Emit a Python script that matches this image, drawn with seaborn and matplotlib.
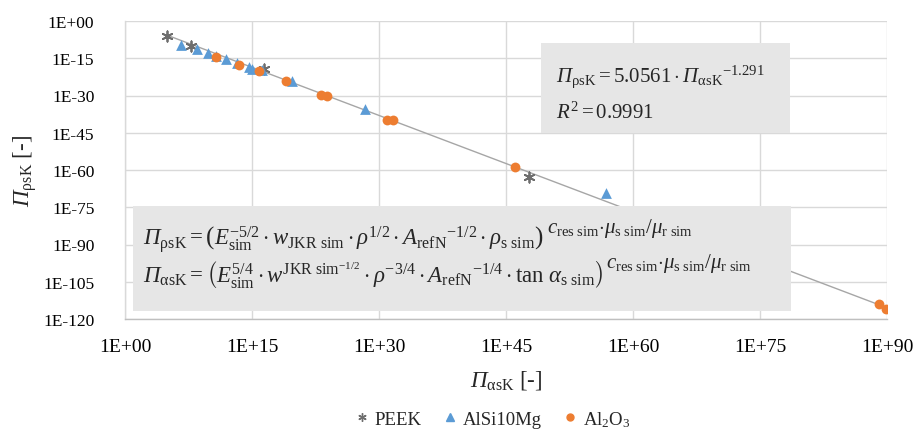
import numpy as np
import pandas as pd
import matplotlib
matplotlib.use("Agg")
import matplotlib.pyplot as plt
from matplotlib.patches import Rectangle
from matplotlib.ticker import FixedLocator, FuncFormatter, NullLocator
from matplotlib.lines import Line2D
import seaborn as sns

# ---- data (log10 of the values) ----
peek_logx = [5.0, 7.8, 16.4, 47.7]
peek_logy = [-6.1, -10.0, -19.2, -62.9]

alsi_logx = [6.6, 8.5, 9.8, 10.8, 11.9, 13.2, 14.6, 15.0, 16.2, 19.7, 28.3, 56.8]
alsi_logy = [-9.5, -11.3, -13.0, -14.0, -15.3, -16.8, -18.5, -19.2, -19.7, -24.0, -35.6, -69.2]

al2o3_logx = [10.8, 13.5, 15.8, 19.0, 23.2, 23.8, 31.0, 31.6, 46.1, 89.1, 89.9]
al2o3_logy = [-14.4, -17.7, -20.3, -24.3, -29.8, -30.0, -39.8, -40.0, -58.6, -114.0, -115.8]

fit_a = 5.0561
fit_b = -1.291
r2 = 0.9991

x_ticks_exp = [0, 15, 30, 45, 60, 75, 90]
y_ticks_exp = [0, -15, -30, -45, -60, -75, -90, -105, -120]

series_names = ["PEEK", "AlSi10Mg", "Al$_2$O$_3$"]
colors = ["#6E6E6E", "#5B9BD5", "#ED7D31"]

df = pd.concat([
    pd.DataFrame({"x": 10.0 ** np.array(peek_logx), "y": 10.0 ** np.array(peek_logy), "s": series_names[0]}),
    pd.DataFrame({"x": 10.0 ** np.array(alsi_logx), "y": 10.0 ** np.array(alsi_logy), "s": series_names[1]}),
    pd.DataFrame({"x": 10.0 ** np.array(al2o3_logx), "y": 10.0 ** np.array(al2o3_logy), "s": series_names[2]}),
])

sns.set_theme(style="white")
plt.rcParams["font.family"] = ["Liberation Serif", "DejaVu Serif"]
plt.rcParams["mathtext.fontset"] = "custom"
plt.rcParams["mathtext.rm"] = "Liberation Serif"
plt.rcParams["mathtext.it"] = "Liberation Serif:italic"
plt.rcParams["mathtext.bf"] = "Liberation Serif:bold"
plt.rcParams["mathtext.sf"] = "Liberation Serif:italic"

fig = plt.figure(figsize=(9.17, 4.31), dpi=100)
ax = fig.add_axes([125 / 917, 1 - 320 / 431, 762 / 917, 298 / 431])

ax.set_xscale("log")
ax.set_yscale("log")

# trendline from the published fit
all_logx = peek_logx + alsi_logx + al2o3_logx
fx = np.logspace(min(all_logx), max(all_logx), 200)
fy = fit_a * fx ** fit_b
sns.lineplot(x=fx, y=fy, ax=ax, color="#A6A6A6", lw=1.0, zorder=2, legend=False)

markers = [(6, 2, 0), "^", "o"]
sizes = [55, 60, 50]
for name, c, m, s in zip(series_names, colors, markers, sizes):
    sub = df[df["s"] == name]
    kw = dict(linewidth=1.3) if m == (6, 2, 0) else dict(linewidth=0)
    sns.scatterplot(data=sub, x="x", y="y", ax=ax, color=c, marker=m, s=s,
                    zorder=5, legend=False, edgecolor=c, **kw)

ax.set_xlim(1e0, 1e90)
ax.set_ylim(1e-120, 1e0)
ax.xaxis.set_major_locator(FixedLocator([10.0 ** e for e in x_ticks_exp]))
ax.yaxis.set_major_locator(FixedLocator([10.0 ** e for e in y_ticks_exp]))
ax.xaxis.set_minor_locator(NullLocator())
ax.yaxis.set_minor_locator(NullLocator())

def fmt(v, pos):
    e = int(round(np.log10(v)))
    return f"1E{'+' if e >= 0 else '-'}{abs(e):02d}"

ax.xaxis.set_major_formatter(FuncFormatter(fmt))
ax.yaxis.set_major_formatter(FuncFormatter(fmt))
ax.tick_params(axis="x", labelsize=14, pad=14, length=0, colors="#000000")
ax.tick_params(axis="y", labelsize=12.5, pad=22, length=0, colors="#000000")

ax.grid(True, color="#D9D9D9", lw=1.0)
ax.set_axisbelow(True)
for sp in ["top", "right"]:
    ax.spines[sp].set_visible(False)
ax.spines["left"].set_color("#D9D9D9")
ax.spines["bottom"].set_color("#BFBFBF")
ax.spines["left"].set_linewidth(1.0)
ax.spines["bottom"].set_linewidth(1.0)

PI = r"\mathsf{\Pi}"
ax.set_xlabel(r"$" + PI + r"_{\mathrm{\alpha sK}}$ [-]", fontsize=16.5, labelpad=9)
ax.set_ylabel(r"$" + PI + r"_{\mathrm{\rho sK}}$ [-]", fontsize=16.5, labelpad=3)

# equation box (fit)
ax.add_patch(Rectangle((0.546, 0.625), 0.327, 0.30, transform=ax.transAxes,
                       facecolor="#E6E6E6", edgecolor="none", zorder=3))
ax.text(0.566, 0.815, r"$" + PI + r"_{\mathrm{\rho sK}} = 5.0561 \cdot " + PI + r"_{\mathrm{\alpha sK}}{}^{-1.291}$",
        transform=ax.transAxes, fontsize=15, va="center", ha="left", zorder=4)
ax.text(0.566, 0.695, r"$R^2 = " + f"{r2:.4f}" + r"$",
        transform=ax.transAxes, fontsize=15, va="center", ha="left", zorder=4)

# definition box
ax.add_patch(Rectangle((0.0105, 0.027), 0.864, 0.352, transform=ax.transAxes,
                       facecolor="#E6E6E6", edgecolor="none", zorder=3))
l1 = (r"$" + PI + r"_{\mathrm{\rho sK}} = \left(E_{\mathrm{sim}}^{-5/2} \cdot w_{\mathrm{JKR\ sim}} \cdot \rho^{1/2}"
      r" \cdot A_{\mathrm{refN}}{}^{-1/2} \cdot \rho_{\mathrm{s\ sim}}\right)$")
l2 = (r"$" + PI + r"_{\mathrm{\alpha sK}} = \left(E_{\mathrm{sim}}^{5/4} \cdot w^{\mathrm{JKR\ sim}^{-1/2}} \cdot \rho^{-3/4}"
      r" \cdot A_{\mathrm{refN}}{}^{-1/4} \cdot \tan\,\alpha_{\mathrm{s\ sim}}\right)$")
expo = r"$c_{\mathrm{res\ sim}} {\cdot} \mu_{\mathrm{s\ sim}} / \mu_{\mathrm{r\ sim}}$"
t1 = ax.text(0.024, 0.268, l1, transform=ax.transAxes, fontsize=16.5, va="center", ha="left", zorder=4)
t2 = ax.text(0.024, 0.152, l2, transform=ax.transAxes, fontsize=16.5, va="center", ha="left", zorder=4)

renderer = fig.canvas.get_renderer()
inv = ax.transAxes.inverted()
for t in (t1, t2):
    bb = t.get_window_extent(renderer)
    x_ax, y_ax = inv.transform((bb.x1 + 3, bb.y1 - 4))
    ax.text(x_ax, y_ax, expo, transform=ax.transAxes, fontsize=15, va="center", ha="left", zorder=4)

handles = [
    Line2D([], [], ls="none", marker=markers[0], color=colors[0], markersize=6, markeredgewidth=1.0),
    Line2D([], [], ls="none", marker=markers[1], color=colors[1], markersize=6),
    Line2D([], [], ls="none", marker=markers[2], color=colors[2], markersize=5),
]
fig.legend(handles, series_names, loc="center", bbox_to_anchor=(0.536, 0.026), ncol=3,
           frameon=False, fontsize=13.5, handletextpad=0.2, columnspacing=1.0, handlelength=1.0)

fig.savefig("out.png", dpi=100)
